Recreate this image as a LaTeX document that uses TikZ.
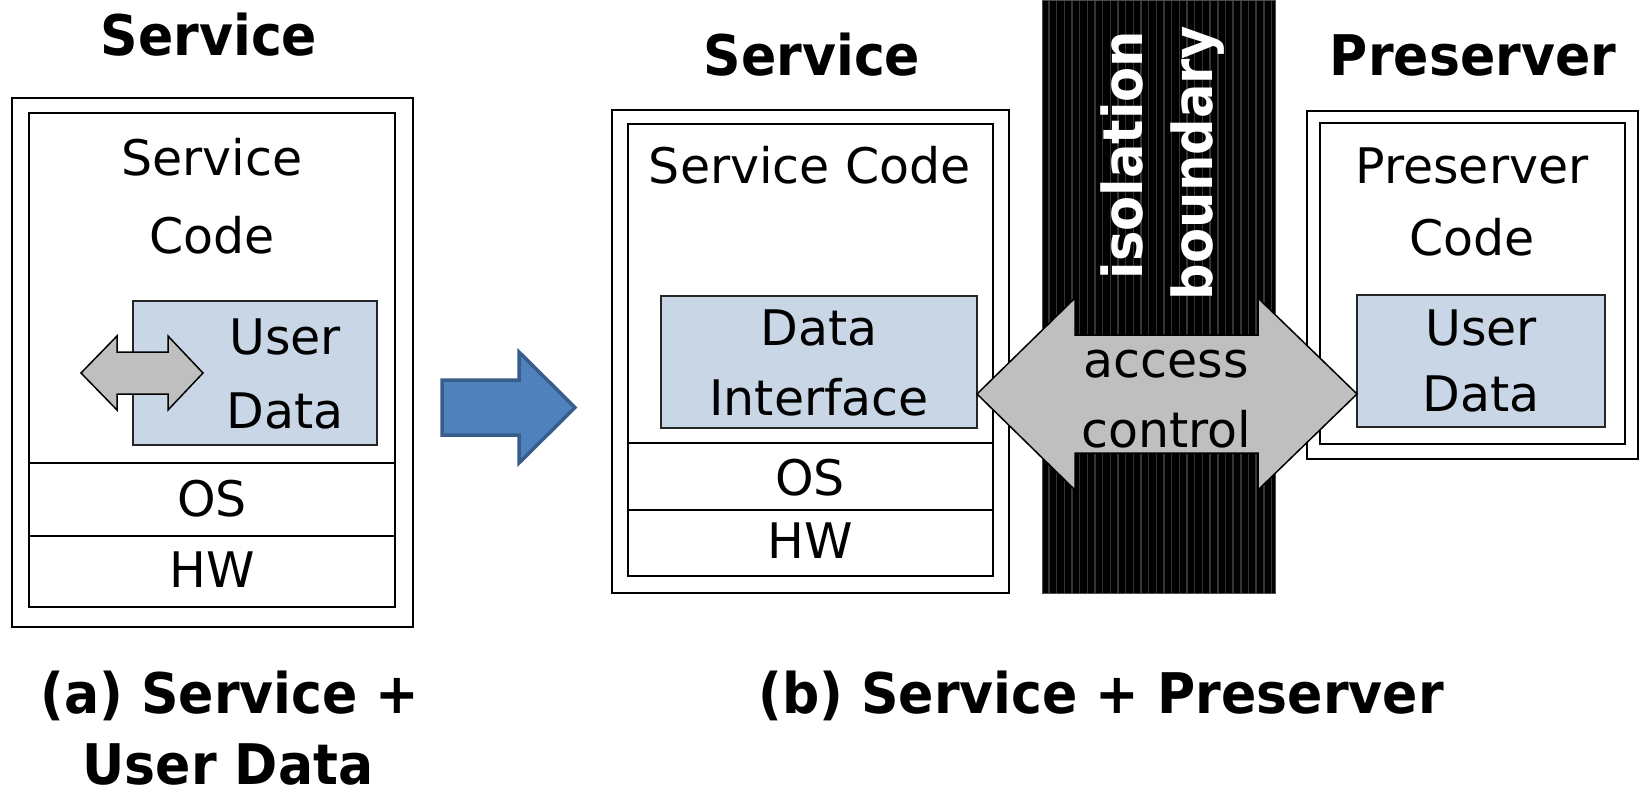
\documentclass[tikz,border=0pt]{standalone}
\usepackage{fontspec}
\setmainfont{DejaVu Sans}
\newfontfamily\headfont{DejaVu Sans}[FakeStretch=0.93]
\usetikzlibrary{calc}
\definecolor{arrowgray}{RGB}{191,191,191}
\definecolor{datafill}{RGB}{200,214,230}
\definecolor{bluefill}{RGB}{79,129,189}
\definecolor{blueedge}{RGB}{56,93,138}
\definecolor{bandline}{RGB}{52,52,52}

\begin{document}
\begin{tikzpicture}[x=1pt,y=-1pt,
  layerbox/.style={draw=black,line width=2pt,fill=white,inner sep=0pt,outer sep=0pt},
  databox/.style={draw=black!85,line width=1.5pt,fill=datafill,inner sep=0pt,outer sep=0pt},
  divider/.style={draw=black,line width=2pt},
  body/.style={font=\fontsize{49}{58}\selectfont,inner sep=0pt,anchor=base},
  head/.style={font=\headfont\bfseries\fontsize{56}{66}\selectfont,inner sep=0pt,anchor=base},
  bandtext/.style={font=\headfont\bfseries\fontsize{55}{66}\selectfont,text=white,inner sep=0pt,anchor=base,rotate=90},
  blockarrow/.style={draw=black,line width=1.5pt,fill=arrowgray,line join=miter},
  bluearrow/.style={draw=blueedge,line width=3.5pt,fill=bluefill,line join=miter},
]
\useasboundingbox (0,0) rectangle (1641,795);

% isolation band with fine vertical stripes
\fill[black] (1042,0) rectangle (1275,593);
\foreach \i in {0,...,29}
  \draw[bandline,line width=1.5pt] ({1049+7.67*\i},0) -- ({1049+7.67*\i},593);
\draw[black!70,line width=1pt] (1042,0) rectangle (1275,593);

% ---- (a) service holding user data ----
\node[layerbox,minimum width=401,minimum height=529] (aOuter) at (212.5,362.5) {};
\node[layerbox,minimum width=366,minimum height=494] (aInner) at (212,360) {};
\draw[divider] (aInner.west |- 0,463) -- (aInner.east |- 0,463);
\draw[divider] (aInner.west |- 0,536) -- (aInner.east |- 0,536);
\node[databox,minimum width=244,minimum height=144] (aData) at (255,373) {};
\coordinate (aL) at (81,373);
\coordinate (aR) at (203,373);
\draw[blockarrow] (aL) -- ($(aL)+(36,-37)$) -- ($(aL)+(36,-21)$) -- ($(aR)+(-35,-21)$)
  -- ($(aR)+(-35,-37)$) -- (aR) -- ($(aR)+(-35,37)$) -- ($(aR)+(-35,21)$)
  -- ($(aL)+(36,21)$) -- ($(aL)+(36,37)$) -- cycle;

\node[head] (aTitle) at (209,55) {Service};
\node[body] (aCode1) at (212,175) {Service};
\node[body] (aCode2) at (212,253) {Code};
\node[body] (aUser1) at (285,354) {User};
\node[body] (aUser2) at (285,428) {Data};
\node[body] (aOS) at (212,516) {OS};
\node[body] (aHW) at (212,587) {HW};

% ---- transition arrow ----
\coordinate (tail) at (442,407.5);
\coordinate (tip) at (575,407.5);
\draw[bluearrow] ($(tail)+(0,-27.5)$) -- ($(tip)+(-56,-27.5)$) -- ($(tip)+(-56,-55.5)$)
  -- (tip) -- ($(tip)+(-56,55.5)$) -- ($(tip)+(-56,27.5)$) -- ($(tail)+(0,27.5)$) -- cycle;

% ---- (b) service side ----
\node[layerbox,minimum width=397,minimum height=483] (bOuter) at (810.5,351.5) {};
\node[layerbox,minimum width=365,minimum height=452] (bInner) at (810.5,350) {};
\draw[divider] (bInner.west |- 0,443) -- (bInner.east |- 0,443);
\draw[divider] (bInner.west |- 0,510) -- (bInner.east |- 0,510);
\node[databox,minimum width=316,minimum height=132] (bIface) at (819,362) {};

% ---- (b) preserver side ----
\node[layerbox,minimum width=331,minimum height=348] (cOuter) at (1472.5,285) {};
\node[layerbox,minimum width=305,minimum height=321] (cInner) at (1472.5,283.5) {};
\node[databox,minimum width=248,minimum height=132] (cData) at (1481,361) {};

% access control across the boundary
\coordinate (acL) at (bIface.east |- 0,394);
\coordinate (acR) at (cData.west |- 0,394);
\draw[blockarrow] (acL) -- ($(acL)+(98,-96)$) -- ($(acL)+(98,-59)$) -- ($(acR)+(-99,-59)$)
  -- ($(acR)+(-99,-96)$) -- (acR) -- ($(acR)+(-99,96)$) -- ($(acR)+(-99,59)$)
  -- ($(acL)+(98,59)$) -- ($(acL)+(98,96)$) -- cycle;

\node[bandtext] (iso1) at (1142,155) {isolation};
\node[bandtext] (iso2) at (1212,163) {boundary};
\node[body] (ac1) at (1166,377) {access};
\node[body] (ac2) at (1166,447) {control};

\node[head] (bTitle) at (812,75) {Service};
\node[body] (bCode) at (810,183) {Service Code};
\node[body] (bIface1) at (819,345) {Data};
\node[body] (bIface2) at (819,415) {Interface};
\node[body] (bOS) at (810,495) {OS};
\node[body] (bHW) at (810,558) {HW};

\node[head] (cTitle) at (1473,75) {Preserver};
\node[body] (cCode1) at (1472,183) {Preserver};
\node[body] (cCode2) at (1472,255) {Code};
\node[body] (cUser1) at (1481,345) {User};
\node[body] (cUser2) at (1481,411) {Data};

% captions
\node[head] (capA1) at (230,713) {(a) Service +};
\node[head] (capA2) at (228,784) {User Data};
\node[head] (capB) at (1101,713) {(b) Service + Preserver};
\end{tikzpicture}
\end{document}
